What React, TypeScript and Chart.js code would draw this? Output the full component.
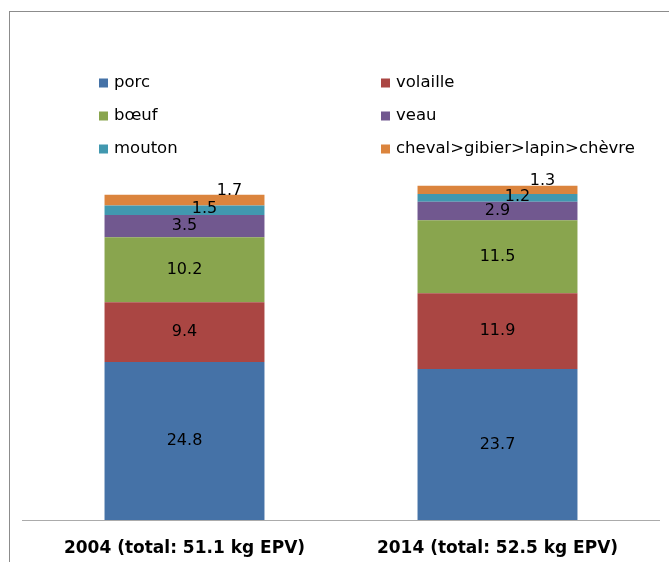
import React, { useEffect, useRef } from "react";
import { Chart, registerables } from "chart.js";

Chart.register(...registerables);

const categories = ["2004 (total: 51.1 kg EPV)", "2014 (total: 52.5 kg EPV)"];
const seriesNames = ["porc", "volaille", "bœuf", "veau", "mouton", "cheval>gibier>lapin>chèvre"];
const porc = [24.8, 23.7];
const volaille = [9.4, 11.9];
const boeuf = [10.2, 11.5];
const veau = [3.5, 2.9];
const mouton = [1.5, 1.2];
const autres = [1.7, 1.3];
const seriesValues = [porc, volaille, boeuf, veau, mouton, autres];
const seriesColors = ["#4572A7", "#AA4643", "#89A54E", "#71588F", "#4198AF", "#DB843D"];

const FONT = "'DejaVu Sans', 'Verdana', sans-serif";
// label offsets per series [dx, dy] (style)
const LABEL_OFFSETS: [number, number][] = [
  [0, 0],
  [0, 0],
  [0, 0],
  [0, 0],
  [20, -1],
  [45, -9],
];

const valueLabels = {
  id: "valueLabels",
  afterDatasetsDraw(chart: any) {
    const ctx = chart.ctx;
    ctx.save();
    ctx.font = `16px ${FONT}`;
    ctx.fillStyle = "#000";
    ctx.textAlign = "center";
    ctx.textBaseline = "middle";
    chart.data.datasets.forEach((ds: any, i: number) => {
      const meta = chart.getDatasetMeta(i);
      meta.data.forEach((bar: any, j: number) => {
        const { x, y, base } = bar.getProps(["x", "y", "base"], true);
        const [dx, dy] = LABEL_OFFSETS[i];
        ctx.fillText(Number(ds.data[j]).toFixed(1), x + dx, (y + base) / 2 + dy);
      });
    });
    ctx.restore();
  },
};

const axisLine = {
  id: "axisLine",
  afterDatasetsDraw(chart: any) {
    const { ctx, chartArea } = chart;
    ctx.save();
    ctx.strokeStyle = "#ababab";
    ctx.lineWidth = 1;
    ctx.beginPath();
    const y = Math.round(chartArea.bottom) + 0.5;
    ctx.moveTo(chartArea.left - 6, y);
    ctx.lineTo(chartArea.right + 6, y);
    ctx.stroke();
    ctx.restore();
  },
};

const gridLegend = {
  id: "gridLegend",
  afterDraw(chart: any) {
    const ctx = chart.ctx;
    ctx.save();
    ctx.font = `16.5px ${FONT}`;
    ctx.textAlign = "left";
    ctx.textBaseline = "middle";
    const colX = [99, 381];
    const rowY = [83, 116, 149];
    const box = 9;
    chart.data.datasets.forEach((ds: any, i: number) => {
      const col = i % 2;
      const row = Math.floor(i / 2);
      const x = colX[col];
      const y = rowY[row];
      ctx.fillStyle = ds.backgroundColor;
      ctx.fillRect(x, y - box / 2, box, box);
      ctx.fillStyle = "#000";
      ctx.fillText(ds.label, x + box + 6, y);
    });
    ctx.restore();
  },
};

export default function App() {
  const ref = useRef<HTMLCanvasElement | null>(null);
  useEffect(() => {
    if (!ref.current) return;
    const chart = new Chart(ref.current, {
      type: "bar",
      data: {
        labels: categories,
        datasets: seriesNames.map((name, i) => ({
          label: name,
          data: seriesValues[i],
          backgroundColor: seriesColors[i],
          borderWidth: 0,
          barPercentage: 0.511,
          categoryPercentage: 1,
        })),
      },
      options: {
        animation: false,
        responsive: false,
        events: [],
        layout: { padding: { left: 28, right: 15, top: 138, bottom: 0 } },
        plugins: {
          legend: { display: false },
          tooltip: { enabled: false },
          title: { display: false },
        },
        scales: {
          x: {
            stacked: true,
            grid: { display: false, drawTicks: false },
            border: { display: false },
            afterFit: (scale: any) => {
              scale.height = 42;
            },
            ticks: {
              color: "#000",
              padding: 18,
              maxRotation: 0,
              font: { family: FONT, size: 17, weight: "bold" },
            },
          },
          y: {
            stacked: true,
            display: false,
            min: 0,
            max: 60,
          },
        },
      },
      plugins: [valueLabels, axisLine, gridLegend],
    });
    return () => chart.destroy();
  }, []);
  return (
    <div style={{ position: "absolute", left: 0, top: 0, width: 669, height: 562, background: "#fff", overflow: "hidden" }}>
      <div
        style={{
          position: "absolute",
          left: 9,
          top: 11,
          width: 700,
          height: 600,
          borderTop: "1px solid #8c8c8c",
          borderLeft: "1px solid #8c8c8c",
        }}
      />
      <canvas ref={ref} width={669} height={562} style={{ position: "absolute", left: 0, top: 0, display: "block" }} />
    </div>
  );
}
